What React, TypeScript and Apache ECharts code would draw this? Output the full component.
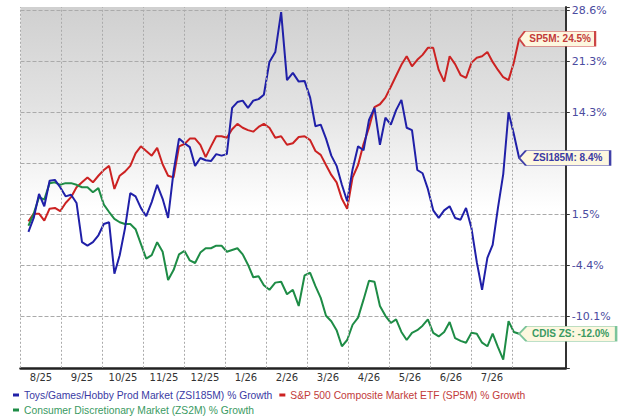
import React, { useEffect, useRef } from 'react';
import * as echarts from 'echarts';

// ---- Data ----
const monthLabels = ['8/25', '9/25', '10/25', '11/25', '12/25', '1/26', '2/26', '3/26', '4/26', '5/26', '6/26', '7/26'];

// right-axis ticks (% growth) and their labels (the 4th is hidden by a value flag)
const yTickValues = [-10.1, -4.4, 1.5, 7.7, 14.3, 21.3, 28.6];
const yTickLabels = ['-10.1%', '-4.4%', '1.5%', '', '14.3%', '21.3%', '28.6%'];

// sampling: every 4 days starting 2025-08-07
const startDateUTC = Date.UTC(2025, 7, 7);
const stepDays = 4;

const zsi185m = [
  -0.5, 1.1, 4.0, 2.5, 5.6, 5.7, 4.8, 3.7, 3.9, 2.9,
  -1.7, -2.1, -1.7, -0.9, 0.4, 0.6, -5.3, -3.2, -0.1, 4.1,
  3.7, 2.3, 1.3, 3.0, 5.1, 3.4, 1.1, 6.7, 10.9, 10.3,
  9.8, 7.4, 8.4, 8.1, 8.0, 8.9, 8.7, 8.9, 14.9, 15.7,
  15.9, 14.9, 15.9, 16.1, 16.7, 21.2, 22.6, 28.3, 18.7, 19.7,
  18.5, 18.6, 16.3, 12.5, 12.7, 10.9, 8.7, 7.4, 5.1, 3.1,
  7.0, 9.9, 9.4, 13.3, 14.9, 10.1, 13.6, 12.7, 14.6, 16.0,
  12.3, 12.0, 6.9, 6.5, 4.6, 2.0, 1.1, 2.0, 2.5, 1.1,
  0.9, 2.3, -0.1, -4.0, -7.1, -3.5, -2.0, 2.3, 6.4, 14.3,
  11.5, 8.4,
];

const sp5m = [
  0.7, 1.6, 1.6, 0.8, 2.2, 2.3, 1.9, 2.9, 3.6, 4.8,
  5.4, 6.0, 5.4, 6.2, 6.9, 7.4, 4.6, 6.2, 6.7, 7.4,
  9.0, 9.9, 9.3, 8.7, 9.7, 7.6, 6.2, 6.0, 9.9, 10.2,
  10.9, 10.9, 10.1, 8.5, 9.9, 11.2, 11.2, 11.0, 12.1, 12.8,
  12.3, 12.0, 11.8, 12.4, 12.8, 12.3, 11.0, 11.2, 10.1, 10.3,
  11.1, 11.2, 10.7, 9.3, 8.8, 7.5, 6.3, 5.4, 3.4, 2.2,
  6.0, 7.5, 10.2, 12.3, 15.0, 15.4, 16.3, 17.8, 19.3, 20.8,
  22.0, 20.6, 21.5, 22.2, 23.2, 23.2, 20.1, 18.5, 22.0, 20.9,
  19.4, 19.0, 21.1, 21.8, 22.0, 22.6, 21.2, 20.1, 19.1, 18.7,
  21.1, 24.5,
];

const zs2m = [
  0.2, 1.6, 3.6, 3.3, 5.3, 5.4, 5.1, 5.3, 5.3, 5.1,
  4.8, 4.8, 4.2, 4.7, 2.7, 1.8, 1.0, 0.6, 0.4, 0.4,
  -0.2, -1.9, -3.6, -3.2, -1.7, -2.8, -6.0, -4.9, -3.1, -2.7,
  -3.8, -4.1, -2.9, -2.4, -2.4, -2.1, -2.1, -2.8, -2.6, -2.4,
  -3.1, -4.3, -5.7, -5.6, -6.6, -7.1, -6.3, -6.2, -7.6, -7.1,
  -8.9, -5.5, -5.2, -6.7, -8.0, -10.0, -10.6, -11.6, -13.4, -12.7,
  -11.0, -10.2, -8.2, -6.1, -6.2, -8.9, -10.0, -10.8, -10.4, -11.8,
  -12.7, -11.9, -11.6, -11.1, -10.4, -11.9, -12.3, -11.8, -10.7, -12.5,
  -12.8, -13.0, -11.9, -12.0, -13.0, -13.4, -12.0, -13.5, -14.9, -10.6,
  -11.8, -12.0,
];

const seriesNames = [
  'Toys/Games/Hobby Prod Market (ZSI185M) % Growth',
  'S&P 500 Composite Market ETF (SP5M) % Growth',
  'Consumer Discretionary Market (ZS2M) % Growth',
];
const endTags = ['ZSI185M', 'SP5M', 'CDIS ZS'];

// ---- helpers ----
const dates = zsi185m.map((_, i) => new Date(startDateUTC + i * stepDays * 86400000).toISOString().slice(0, 10));

function monthPos(s: string): number {
  const [y, m, d] = s.split('-').map(Number);
  const dim = new Date(Date.UTC(y, m, 0)).getUTCDate();
  return (y - 2025) * 12 + (m - 8) + (d - 1) / dim;
}

// axis scale defined by the labelled ticks (piecewise between them)
function toAxis(p: number): number {
  const t = yTickValues;
  let i = 0;
  if (p >= t[t.length - 2]) i = t.length - 2;
  else if (p > t[1]) {
    while (p > t[i + 1]) i++;
  }
  return i + (p - t[i]) / (t[i + 1] - t[i]);
}

const fmtPct = (v: number) => v.toFixed(1) + '%';

export default function App() {
  const ref = useRef<HTMLDivElement>(null);

  useEffect(() => {
    if (!ref.current) return;
    const chart = echarts.init(ref.current, undefined, { renderer: 'svg' });

    const gridColor = '#aaaaaa';

    const lineColors = ['#2020a8', '#cc2222', '#1e8c46'];
    const textColors = ['#3a3aa4', '#c23a3a', '#3a9a62'];
    const tagBorder = ['#4040a8', '#cc4444', '#7cc49a'];
    const tagSize: [number, number][] = [[91, 15], [76, 15], [97, 15]];
    const values = [zsi185m, sp5m, zs2m];

    const xs = dates.map(monthPos);

    // month-start gridlines (Aug 1 ... Aug 1), drawn through the x scale
    const monthGrid = {
      silent: true,
      animation: false,
      symbol: ['none', 'none'],
      label: { show: false },
      lineStyle: { color: gridColor, width: 1, type: [2, 2] },
      emphasis: { disabled: true },
      data: [...monthLabels, ''].map((_, i) => ({ xAxis: i })),
    };

    const series: any[] = [
      {
        name: '__grid',
        type: 'line',
        xAxisIndex: 0,
        yAxisIndex: 0,
        z: 1,
        silent: true,
        showSymbol: false,
        lineStyle: { width: 0, opacity: 0 },
        data: [[0, 0]],
        markLine: monthGrid,
      },
    ];

    values.forEach((vals, k) => {
      const last = vals.length - 1;
      const [w, h] = tagSize[k];
      series.push({
        name: seriesNames[k],
        type: 'line',
        xAxisIndex: 0,
        yAxisIndex: 0,
        showSymbol: false,
        symbol: 'none',
        z: k === 0 ? 4 : 3,
        lineStyle: { width: 2, color: lineColors[k] },
        itemStyle: { color: lineColors[k] },
        data: vals.map((v, i) => [xs[i], toAxis(v)]),
        markPoint: {
          silent: true,
          animation: false,
          symbol: 'path://M0,7 L6,0 L80,0 L80,14 L6,14 Z',
          symbolKeepAspect: false,
          symbolSize: [w, h],
          symbolOffset: [w / 2, 0],
          itemStyle: { color: '#fdf7df', borderColor: tagBorder[k], borderWidth: 1 },
          label: {
            show: true,
            position: 'inside',
            offset: [3, 0],
            formatter: endTags[k] + ': ' + fmtPct(vals[last]),
            color: textColors[k],
            fontSize: 10,
            fontWeight: 'bold',
            fontFamily: 'Liberation Sans',
          },
          data: [{ coord: [xs[last], toAxis(vals[last])] }],
        },
      });
    });

    const legendText = { fontSize: 10.3, fontFamily: 'Liberation Sans', lineHeight: 12 };

    chart.setOption({
      animation: false,
      backgroundColor: '#ffffff',
      grid: {
        left: 20.5,
        right: 54.2,
        top: 7,
        bottom: 52.2,
        show: true,
        borderWidth: 0,
        backgroundColor: new echarts.graphic.LinearGradient(0, 0, 0, 1, [
          { offset: 0, color: '#d0d0d0' },
          { offset: 0.27, color: '#e2e2e2' },
          { offset: 0.45, color: '#f4f4f4' },
          { offset: 0.56, color: '#ffffff' },
          { offset: 1, color: '#ffffff' },
        ]),
      },
      legend: [
        {
          data: [
            { name: seriesNames[0], textStyle: { color: textColors[0] } },
            { name: seriesNames[1], textStyle: { color: textColors[1] } },
          ],
          left: 13,
          top: 389,
          padding: 0,
          icon: 'rect',
          itemWidth: 6,
          itemHeight: 3,
          itemGap: 7,
          selectedMode: false,
          textStyle: legendText,
        },
        {
          data: [{ name: seriesNames[2], textStyle: { color: textColors[2] } }],
          left: 13,
          top: 404,
          padding: 0,
          icon: 'rect',
          itemWidth: 6,
          itemHeight: 3,
          selectedMode: false,
          textStyle: legendText,
        },
      ],
      xAxis: [
        {
          type: 'value',
          min: 0,
          max: 13.3,
          interval: 1,
          position: 'bottom',
          axisLine: { show: true, onZero: false, lineStyle: { color: '#222', width: 2.5 } },
          axisTick: { show: false },
          axisLabel: { show: false },
          splitLine: { show: false },
        },
        {
          type: 'value',
          min: 0,
          max: 13.3,
          interval: 0.5,
          position: 'bottom',
          offset: 0,
          axisLine: { show: false },
          axisTick: { show: false },
          splitLine: { show: false },
          axisLabel: {
            margin: 5,
            fontSize: 10,
            fontFamily: 'DejaVu Sans',
            color: '#333',
            formatter: (v: number) => {
              const k = v - 0.5;
              const idx = Math.round(k);
              if (Math.abs(k - idx) < 1e-6 && idx >= 0 && idx < monthLabels.length) return monthLabels[idx];
              return '';
            },
          },
        },
      ],
      yAxis: {
        type: 'value',
        position: 'right',
        min: -1,
        max: 6.06,
        interval: 1,
        axisLine: { show: true, onZero: false, lineStyle: { color: '#333', width: 2 } },
        axisTick: { show: true, length: 4, lineStyle: { color: '#333' } },
        axisLabel: {
          margin: 6,
          fontSize: 11,
          fontFamily: 'DejaVu Sans',
          color: '#4b4ba0',
          formatter: (v: number) => {
            const idx = Math.round(v);
            if (Math.abs(v - idx) < 1e-6 && idx >= 0 && idx < yTickLabels.length) return yTickLabels[idx];
            return '';
          },
        },
        splitLine: {
          show: true,
          showMinLine: false,
          showMaxLine: false,
          lineStyle: { color: gridColor, width: 1, type: 'dashed' },
        },
      },
      series,
    });

    return () => chart.dispose();
  }, []);

  return <div ref={ref} style={{ position: 'fixed', left: 0, top: 0, width: 620, height: 420 }} />;
}
